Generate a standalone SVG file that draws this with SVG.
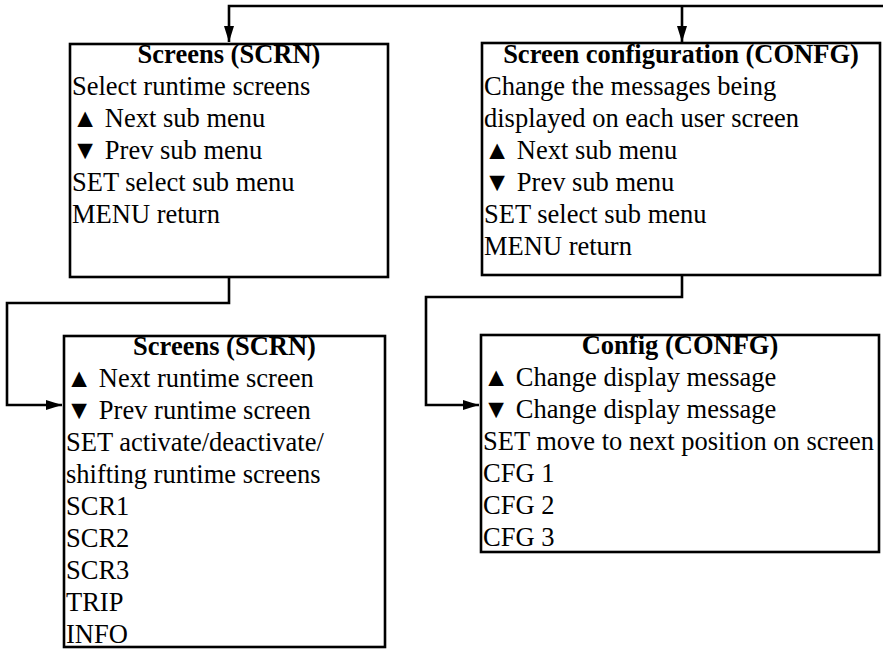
<svg xmlns="http://www.w3.org/2000/svg" width="883" height="649" viewBox="0 0 883 649">
<defs>
<marker id="ah" markerUnits="userSpaceOnUse" markerWidth="18" markerHeight="12" refX="16" refY="5" orient="auto">
<path d="M0,0 L16,5 L0,10 Z" fill="#000"/>
</marker>
<style>
.box{fill:#fff;stroke:#000;stroke-width:2.6}
.t{font-family:"Liberation Serif","Times New Roman","DejaVu Serif",serif;font-size:26.5px;fill:#000}
.h{font-weight:bold;text-anchor:middle}
.c{fill:none;stroke:#000;stroke-width:2.6;stroke-linejoin:miter}
</style>
</defs>
<rect width="883" height="649" fill="#fff"/>
<g id="connectors">
<path class="c" d="M883,6 L229,6 L229,42" marker-end="url(#ah)"/>
<path class="c" d="M682,6 L682,42" marker-end="url(#ah)"/>
<path class="c" d="M229,277 L229,303 L7,303 L7,405 L62,405" marker-end="url(#ah)"/>
<path class="c" d="M682,275 L682,297 L426,297 L426,405 L479,405" marker-end="url(#ah)"/>
</g>
<g id="screens-menu">
<rect class="box" x="70" y="44" width="318" height="233"/>
<text class="t h" x="229" y="63">Screens (SCRN)</text>
<text class="t" x="72" y="95">Select runtime screens</text>
<text class="t" x="72" y="127">▲ Next sub menu</text>
<text class="t" x="72" y="159">▼ Prev sub menu</text>
<text class="t" x="72" y="191">SET select sub menu</text>
<text class="t" x="72" y="223">MENU return</text>
</g>
<g id="screen-config-menu">
<rect class="box" x="482" y="43" width="398" height="232"/>
<text class="t h" x="681" y="63">Screen configuration (CONFG)</text>
<text class="t" x="484" y="95">Change the messages being</text>
<text class="t" x="484" y="127">displayed on each user screen</text>
<text class="t" x="484" y="159">▲ Next sub menu</text>
<text class="t" x="484" y="191">▼ Prev sub menu</text>
<text class="t" x="484" y="223">SET select sub menu</text>
<text class="t" x="484" y="255">MENU return</text>
</g>
<g id="screens-sub">
<rect class="box" x="64" y="336" width="321" height="311"/>
<text class="t h" x="224.5" y="355">Screens (SCRN)</text>
<text class="t" x="66" y="387">▲ Next runtime screen</text>
<text class="t" x="66" y="419">▼ Prev runtime screen</text>
<text class="t" x="66" y="451">SET activate/deactivate/</text>
<text class="t" x="66" y="483">shifting runtime screens</text>
<text class="t" x="66" y="515">SCR1</text>
<text class="t" x="66" y="547">SCR2</text>
<text class="t" x="66" y="579">SCR3</text>
<text class="t" x="66" y="611">TRIP</text>
<text class="t" x="66" y="643">INFO</text>
</g>
<g id="config-sub">
<rect class="box" x="481" y="335" width="398" height="217"/>
<text class="t h" x="680" y="354">Config (CONFG)</text>
<text class="t" x="483" y="386">▲ Change display message</text>
<text class="t" x="483" y="418">▼ Change display message</text>
<text class="t" x="483" y="450">SET move to next position on screen</text>
<text class="t" x="483" y="482">CFG 1</text>
<text class="t" x="483" y="514">CFG 2</text>
<text class="t" x="483" y="546">CFG 3</text>
</g>
</svg>
